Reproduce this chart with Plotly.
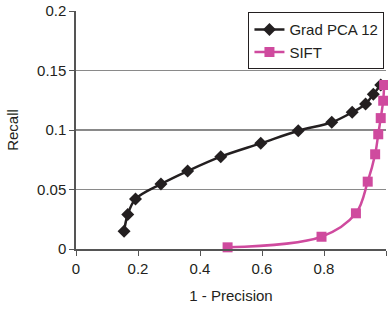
import plotly.graph_objects as go

pca_x = [0.155, 0.167, 0.192, 0.274, 0.360, 0.467, 0.596, 0.717, 0.825, 0.891, 0.934, 0.959, 0.983]
pca_y = [0.015, 0.029, 0.042, 0.0546, 0.0655, 0.0776, 0.0888, 0.0994, 0.1065, 0.1149, 0.1218, 0.130, 0.1378]
sift_x = [0.489, 0.792, 0.903, 0.941, 0.965, 0.975, 0.983, 0.991, 0.994]
sift_y = [0.0014, 0.0103, 0.030, 0.0566, 0.0796, 0.0964, 0.110, 0.1246, 0.1378]

x_ticks = [0, 0.2, 0.4, 0.6, 0.8, 1]
x_labels = ["0", "0.2", "0.4", "0.6", "0.8", "1"]
y_ticks = [0, 0.05, 0.1, 0.15, 0.2]
y_labels = ["0", "0.05", "0.1", "0.15", "0.2"]

BLACK = "#231f20"
MAG = "#cf4a9e"
FONT = "Liberation Sans, Arial, sans-serif"

fig = go.Figure()
fig.add_trace(go.Scatter(x=pca_x, y=pca_y, name="Grad PCA 12", mode="lines+markers",
                         line=dict(color=BLACK, width=2.5, shape="spline"),
                         marker=dict(symbol="diamond", size=10, color=BLACK),
                         cliponaxis=False))
fig.add_trace(go.Scatter(x=sift_x, y=sift_y, name="SIFT", mode="lines+markers",
                         line=dict(color=MAG, width=2.5, shape="spline"),
                         marker=dict(symbol="square", size=10, color=MAG),
                         cliponaxis=False))

# darker gridline at 0.1 as in the reference
fig.add_shape(type="line", xref="paper", x0=0, x1=1, yref="y", y0=0.1, y1=0.1,
              line=dict(color="#111111", width=1), layer="below")

fig.update_layout(
    width=388, height=311,
    margin=dict(l=76, r=2, t=11, b=62),
    paper_bgcolor="white", plot_bgcolor="white",
    font=dict(family=FONT, size=15, color="#231f20"),
    showlegend=True,
    legend=dict(x=0.995, y=0.995, xanchor="right", yanchor="top",
                bordercolor="#231f20", borderwidth=1, bgcolor="white",
                font=dict(size=15), tracegroupgap=0, itemwidth=30),
    xaxis=dict(range=[0, 1], tickvals=x_ticks, ticktext=x_labels, automargin=False,
               showgrid=False, zeroline=False, showline=True, linecolor="#555555",
               linewidth=1.5, ticks="outside", ticklen=5, tickcolor="#555555",
               title=dict(text="1 - Precision", font=dict(size=15))),
    yaxis=dict(range=[0, 0.2], tickvals=y_ticks, ticktext=y_labels, automargin=False,
               showgrid=True, gridcolor="#8a8a8a", gridwidth=1, zeroline=False,
               showline=True, linecolor="#555555", linewidth=1.5,
               ticks="outside", ticklen=5, tickcolor="#555555",
               title=dict(text="Recall", font=dict(size=15))),
)

fig.write_html("out.html", config={"displayModeBar": False},
               post_script="document.body.style.margin='0';document.body.style.overflow='hidden';")
